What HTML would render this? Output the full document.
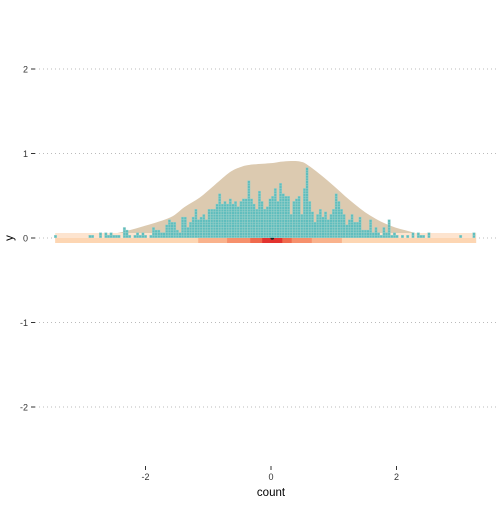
<!DOCTYPE html>
<html><head><meta charset="utf-8"><style>
body{margin:0;background:#fff;font-family:"Liberation Sans",sans-serif}
</style></head><body>
<svg id="c" width="504" height="504" xmlns="http://www.w3.org/2000/svg">
<rect width="504" height="504" fill="#fff"/>
<g id="grid"></g><g id="dens"></g><g id="intv"></g><g id="dots"></g><g id="axes"></g>
<text x="271" y="496" font-size="11.5" text-anchor="middle" fill="#000">count</text>
<text x="13" y="238" font-size="11.5" text-anchor="middle" fill="#000" transform="rotate(-90 13 238)">y</text>
</svg>
<script>
const yTicks=[2,1,0,-1,-2];
const xTicks=[-2,0,2];
const densX=[-3.44,-2.8,-2.4,-2.0,-1.6,-1.38,-1.14,-0.9,-0.66,-0.5,-0.34,0,0.2,0.46,0.62,0.94,1.26,1.58,1.9,2.22,2.54,3.26];
const densY=[0,0.01,0.06,0.14,0.24,0.36,0.47,0.62,0.77,0.83,0.86,0.88,0.90,0.90,0.84,0.65,0.44,0.26,0.14,0.07,0.02,0];
const dotX0=-3.434, dotBin=0.0422;
const dotCounts=[1,0,0,0,0,0,0,0,0,0,0,0,0,1,1,0,0,2,0,2,1,2,1,1,1,0,4,3,1,0,1,2,1,2,1,0,1,4,3,3,2,2,5,7,6,6,3,2,8,8,4,6,8,11,7,8,9,7,11,11,11,13,17,13,14,13,15,13,14,12,14,15,15,22,15,13,11,
18,14,11,12,15,16,19,14,21,17,16,16,9,14,15,16,9,19,27,14,10,6,9,11,8,10,7,9,11,17,14,11,9,5,7,9,6,6,8,3,3,
3,7,2,4,2,1,4,2,7,1,2,1,0,1,0,1,0,2,0,2,1,1,0,2,0,0,0,0,0,0,0,0,0,0,0,1,0,0,0,0,2];
const intervalLo=[-3.44,-1.16,-0.70,-0.33,-0.14];
const intervalHi=[3.27,1.13,0.65,0.33,0.18];
const intervalCol=["#fdd6b3","#f9b28c","#f6906c","#f06a4d","#e3332f"];
const pointX=0.02, pointY=0;
const X=v=>271+v*62.75, Y=v=>238-v*84.5;
const NS="http://www.w3.org/2000/svg";
function mk(t,a,p){const e=document.createElementNS(NS,t);for(const k in a)e.setAttribute(k,a[k]);p.appendChild(e);return e;}
const G=id=>document.getElementById(id);
yTicks.forEach(t=>{
 const l=mk('line',{x1:35,x2:496,y1:Y(t),y2:Y(t),stroke:'#bbb','stroke-width':1,'stroke-dasharray':'1 3'},G('grid'));
 
 
 const k=mk('line',{x1:31,x2:35,y1:Y(t),y2:Y(t),stroke:'#333','stroke-width':1},G('axes'));
 
 
 const s=mk('text',{x:28,y:Y(t)+3.5,'font-size':9,'text-anchor':'end',fill:'#333'},G('axes'));s.textContent=t;
 
 
});
xTicks.forEach(t=>{
 const k=mk('line',{x1:X(t),x2:X(t),y1:466,y2:470,stroke:'#333','stroke-width':1},G('axes'));
 
 
 const s=mk('text',{x:X(t),y:480,'font-size':9,'text-anchor':'middle',fill:'#333'},G('axes'));s.textContent=t;
 
 
});
const pb=mk('rect',{x:X(intervalLo[0]),y:233,width:X(intervalHi[0])-X(intervalLo[0]),height:5,fill:'#fde4cf'},G('intv'));


// smooth catmull-rom density
const P=densX.map((x,i)=>[X(x),Y(densY[i])-0.5]);
let d='M'+P[0][0]+','+P[0][1];
for(let i=0;i<P.length-1;i++){
 const p0=P[Math.max(0,i-1)],p1=P[i],p2=P[i+1],p3=P[Math.min(P.length-1,i+2)];
 const c1=[p1[0]+(p2[0]-p0[0])/6,p1[1]+(p2[1]-p0[1])/6];
 const c2=[p2[0]-(p3[0]-p1[0])/6,p2[1]-(p3[1]-p1[1])/6];
 d+=' C'+c1[0]+','+Math.min(c1[1],Y(0))+' '+c2[0]+','+Math.min(c2[1],Y(0))+' '+p2[0]+','+p2[1];
}
d+=' Z';
const dp=mk('path',{d:d,fill:'#dccab0'},G('dens'));


intervalLo.forEach((lo,i)=>{
 const r=mk('rect',{x:X(lo),y:238,width:X(intervalHi[i])-X(lo),height:5,fill:intervalCol[i]},G('intv'));
 
 
});
const pt=mk('circle',{cx:X(pointX),cy:Y(pointY),r:1.8,fill:'#222'},G('intv'));


dotCounts.forEach((n,i)=>{
 const cx=X(dotX0+i*dotBin);
 for(let j=0;j<n;j++){
  const r=mk('rect',{x:cx-1.25,y:Y(0)-1.5-j*2.6-1.25,width:2.5,height:2.5,fill:'#5fbdbd',stroke:'#9fd3cc','stroke-width':0.35},G('dots'));
  
  
 }
});
</script>
</body></html>
